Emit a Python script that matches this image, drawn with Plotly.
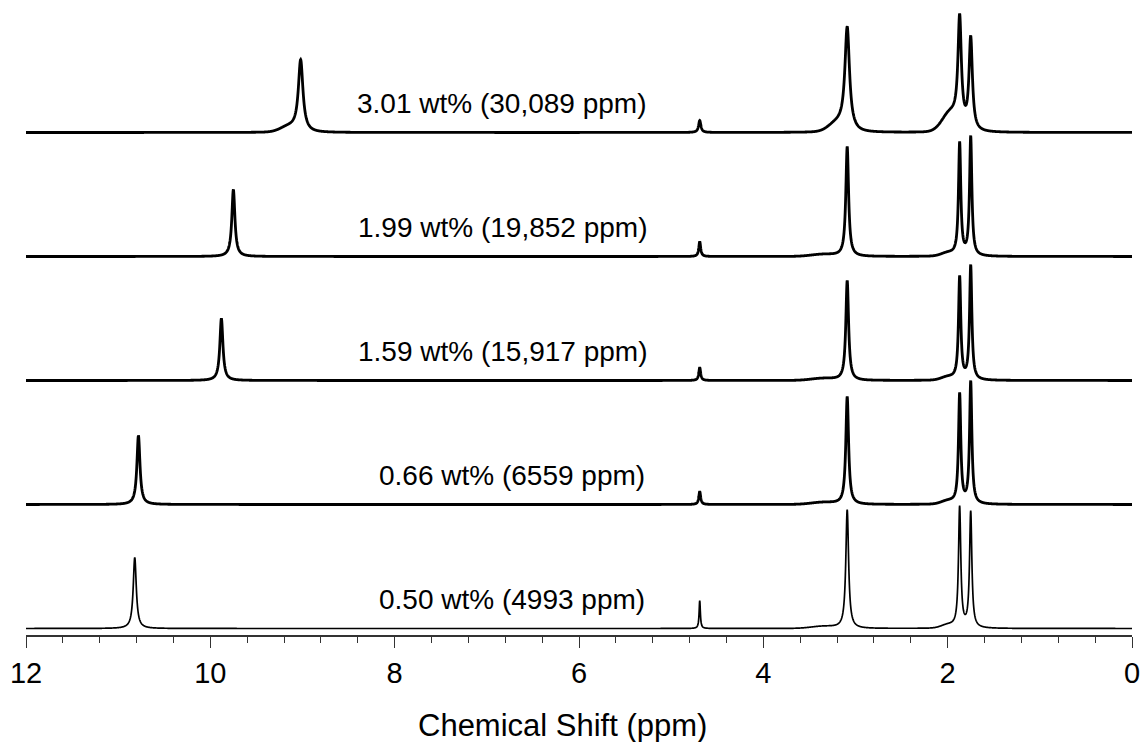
import numpy as np
import plotly.graph_objects as go

# ---------------- data ----------------
sample_labels = [
    "3.01 wt% (30,089 ppm)",
    "1.99 wt% (19,852 ppm)",
    "1.59 wt% (15,917 ppm)",
    "0.66 wt% (6559 ppm)",
    "0.50 wt% (4993 ppm)",
]

# exchangeable OH signal (moves with water content)
oh_ppm = [9.02, 9.75, 9.88, 10.78, 10.82]
oh_int = [73, 67, 62, 69, 71]
oh_hwhm = [0.030, 0.020, 0.020, 0.020, 0.020]

# small signal at 4.69 ppm
h2o_ppm = [4.69, 4.69, 4.69, 4.69, 4.69]
h2o_int = [12, 15, 13, 13, 28]
h2o_hwhm = [0.015, 0.012, 0.012, 0.012, 0.008]

# signal at 3.09 ppm
ch3_ppm = [3.09, 3.09, 3.09, 3.09, 3.09]
ch3_int = [106, 110, 100, 108, 119]
ch3_hwhm = [0.030, 0.018, 0.018, 0.018, 0.018]

# doublet-like pair near 1.8 ppm
ch2a_ppm = [1.87, 1.87, 1.87, 1.87, 1.87]
ch2a_int = [119, 115, 105, 112, 123]
ch2b_ppm = [1.75, 1.75, 1.75, 1.75, 1.75]
ch2b_int = [97, 121, 116, 124, 118]
ch2_hwhm = [0.022, 0.015, 0.015, 0.015, 0.015]

# broad shoulders (centre ppm, intensity, width ppm) per spectrum
shoulder_ppm = [[9.15, 3.20, 1.97], [3.35, 2.00], [3.35, 2.00], [3.35, 2.00], [3.35, 2.00]]
shoulder_int = [[5, 8, 18], [2, 3], [2, 3], [2, 3], [2, 3]]
shoulder_sd = [[0.09, 0.09, 0.09], [0.13, 0.07], [0.13, 0.07], [0.13, 0.07], [0.13, 0.07]]

# ---------------- build spectra ----------------
ppm = np.arange(0.0, 12.0005, 0.002)


def lorentz(x, c, w):
    return 1.0 / (1.0 + ((x - c) / w) ** 2)


def spectrum(i):
    centres = [oh_ppm[i], h2o_ppm[i], ch3_ppm[i], ch2a_ppm[i], ch2b_ppm[i]]
    heights = [oh_int[i], h2o_int[i], ch3_int[i], ch2a_int[i], ch2b_int[i]]
    widths = [oh_hwhm[i], h2o_hwhm[i], ch3_hwhm[i], ch2_hwhm[i], ch2_hwhm[i]]

    def broad(x):
        x = np.asarray(x, dtype=float)
        out = np.zeros_like(x)
        for c, h, s in zip(shoulder_ppm[i], shoulder_int[i], shoulder_sd[i]):
            out += h * np.exp(-0.5 * ((x - c) / s) ** 2)
        return out

    c_arr = np.array(centres)
    M = np.array([[lorentz(ci, cj, wj) for cj, wj in zip(centres, widths)] for ci in centres])
    target = np.array(heights, dtype=float) - broad(c_arr)
    amps = np.linalg.solve(M, target)
    y = broad(ppm)
    for a, c, w in zip(amps, centres, widths):
        y += a * lorentz(ppm, c, w)
    return y


n = len(sample_labels)
stack_step = 124.0

fig = go.Figure()
for i in range(n):
    offset = (n - 1 - i) * stack_step
    fig.add_trace(go.Scatter(
        x=ppm, y=spectrum(i) + offset, mode="lines",
        line=dict(color="black", width=2.8 if i < n - 1 else 1.7, simplify=False),
        hoverinfo="skip", showlegend=False,
    ))

FONT = "Liberation Sans, Arial, Helvetica, sans-serif"
label_x = [6.84, 6.83, 6.83, 6.73, 6.73]
for i, txt in enumerate(sample_labels):
    offset = (n - 1 - i) * stack_step
    fig.add_annotation(
        x=label_x[i], y=offset + 29, xref="x", yref="y", text=txt,
        showarrow=False, xanchor="center", yanchor="middle",
        font=dict(family=FONT, size=28, color="black"),
    )

fig.add_annotation(
    x=0.4855, y=-0.142, xref="paper", yref="paper", text="Chemical Shift (ppm)",
    showarrow=False, xanchor="center", yanchor="middle",
    font=dict(family=FONT, size=31, color="black"),
)

fig.update_layout(
    width=1143, height=742, autosize=False,
    margin=dict(l=26, r=11, t=0, b=107, pad=0),
    paper_bgcolor="white", plot_bgcolor="white",
    xaxis=dict(
        range=[12, 0], showline=True, linecolor="#333", linewidth=1.5,
        ticks="outside", ticklen=11, tickwidth=1.4, tickcolor="#333",
        tick0=0, dtick=2, showgrid=False, zeroline=False,
        tickfont=dict(family=FONT, size=29, color="black"),
        minor=dict(tick0=0, dtick=0.4, ticks="outside", ticklen=6, tickwidth=1.2,
                   tickcolor="#333", showgrid=False),
    ),
    yaxis=dict(visible=False, range=[-6.5, 628.5], showgrid=False, zeroline=False),
)

fig.write_html("out.html")
